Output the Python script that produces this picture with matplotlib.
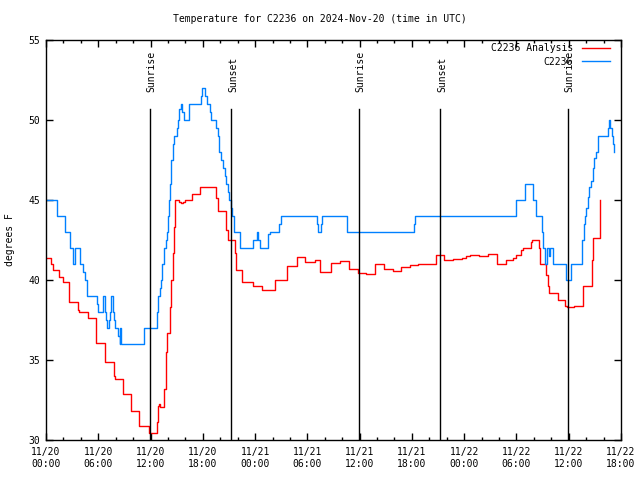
"""
Temperature for station C2236, observations vs analysis, 2024-Nov-20..22 (UTC).
Gnuplot-style stepped lines with sunrise / sunset markers.
"""

import matplotlib
matplotlib.use("Agg")
import matplotlib.pyplot as plt
import matplotlib.transforms as mtransforms
from matplotlib.ticker import MultipleLocator

# hours since 2024-11-20 00:00 UTC
OBS_HOURS = [0.0, 1.3, 2.18, 2.75, 3.13, 3.3, 3.9, 4.3, 4.5, 4.75, 5.85, 5.95,
             6.55, 6.75, 6.9, 7.0, 7.2, 7.35, 7.5, 7.7, 7.85, 7.95, 8.25, 8.45,
             8.55, 8.65, 11.25, 12.7, 12.9, 13.1, 13.2, 13.35, 13.5, 13.6,
             13.75, 13.85, 14.0, 14.1, 14.2, 14.3, 14.4, 14.55, 14.7, 15.0,
             15.15, 15.3, 15.5, 15.65, 15.8, 16.4, 17.8, 17.95, 18.25, 18.45,
             18.8, 18.95, 19.55, 19.7, 19.9, 20.1, 20.3, 20.5, 20.65, 20.85,
             21.05, 21.2, 21.35, 21.6, 22.3, 23.8, 24.2, 24.35, 24.55, 25.5,
             25.7, 26.75, 26.98, 31.1, 31.2, 31.6, 31.7, 34.55, 34.6, 42.2,
             42.3, 54.0, 55.0, 55.9, 56.2, 56.9, 57.0, 57.3, 57.5, 57.75, 57.9,
             58.2, 59.65, 60.3, 61.5, 61.7, 61.86, 62.0, 62.17, 62.36, 62.56,
             62.75, 62.94, 63.13, 63.4, 64.47, 64.6, 64.77, 64.93, 65.05, 65.16]
OBS_TEMPS = [45, 44, 43, 42, 41, 42, 41, 40.5, 40, 39, 38.5, 38,
             39, 38, 37.5, 37, 37.5, 38, 39, 38, 37.5, 37, 36.5, 36,
             37, 36, 37, 38, 39, 39.5, 40, 41, 41.5, 42,
             42.5, 43, 44, 45, 46, 47, 47.5, 48.5, 49, 49.5,
             50, 50.7, 51, 50.5, 50, 51, 51.5, 52, 51.5, 51,
             50.5, 50, 49.5, 49, 48, 47.5, 47, 46.5, 46, 45.5,
             45, 44.5, 44, 43, 42, 42.5, 43, 42.5, 42, 42.9,
             43, 43.5, 44, 43.5, 43, 43.5, 44, 43.5, 43, 43.5,
             44, 45, 46, 45, 44, 43, 42, 41, 42, 41.5, 42,
             41, 40, 41, 42.5, 43.5, 44, 44.5, 45.2, 45.8, 46.2,
             47, 47.6, 48, 49, 49.5, 50, 49.5, 49, 48.5, 48]

ANA_HOURS = [0.0, 0.57, 0.84, 1.53, 1.91, 2.68, 3.71, 3.83, 4.78, 5.74, 6.81,
             7.77, 7.9, 8.8, 9.75, 10.63, 11.78, 12.7, 12.89, 13.0, 13.09,
             13.58, 13.77, 13.85, 14.2, 14.35, 14.54, 14.7, 14.85, 15.3, 15.5,
             15.69, 15.99, 16.76, 17.71, 19.5, 19.7, 20.66, 20.85, 21.73,
             21.81, 22.55, 23.8, 24.83, 26.28, 27.7, 28.77, 29.73, 30.88,
             31.45, 32.71, 33.74, 34.77, 35.85, 36.7, 37.76, 38.83, 39.87,
             40.75, 41.82, 42.74, 44.77, 45.7, 46.68, 47.8, 48.2, 48.67, 49.74,
             50.7, 51.77, 52.8, 53.56, 53.95, 54.5, 54.8, 55.67, 55.8, 56.55,
             56.74, 57.35, 57.6, 57.77, 58.8, 59.57, 59.76, 60.64, 61.68,
             62.67, 62.82, 63.59]
ANA_TEMPS = [41.35, 41.0, 40.6, 40.2, 39.85, 38.6, 38.1, 38.0, 37.6, 36.05, 34.9,
             34.0, 33.8, 32.9, 31.8, 30.9, 30.45, 31.15, 32.1, 32.25, 32.05,
             33.2, 35.5, 36.7, 38.3, 40.0, 41.7, 43.3, 45.0, 44.9, 44.8,
             44.9, 45.0, 45.4, 45.8, 45.1, 44.3, 43.1, 42.5, 41.7,
             40.6, 39.9, 39.6, 39.4, 40.0, 40.9, 41.46, 41.1, 41.25,
             40.5, 41.08, 41.17, 40.7, 40.46, 40.4, 41.0, 40.7, 40.56,
             40.8, 40.95, 41.0, 41.55, 41.25, 41.3, 41.4, 41.5, 41.56, 41.5,
             41.6, 41.0, 41.25, 41.4, 41.56, 41.9, 42.0, 42.4, 42.5, 42.0,
             41.0, 40.3, 39.6, 39.2, 38.75, 38.4, 38.3, 38.4, 39.6,
             41.25, 42.6, 45.0]

SUN_HOURS = [11.88, 21.27, 35.89, 45.27, 59.9]
SUN_LABELS = ["Sunrise", "Sunset", "Sunrise", "Sunset", "Sunrise"]

TICK_HOURS = list(range(0, 67, 6))
TICK_LABELS = ["11/20\n00:00", "11/20\n06:00", "11/20\n12:00", "11/20\n18:00",
               "11/21\n00:00", "11/21\n06:00", "11/21\n12:00", "11/21\n18:00",
               "11/22\n00:00", "11/22\n06:00", "11/22\n12:00", "11/22\n18:00"]

FONT = "DejaVu Sans Mono"
FS = 7


def main():
    plt.rcParams["font.family"] = FONT
    plt.rcParams["font.size"] = FS

    fig = plt.figure(figsize=(6.4, 4.8), dpi=100)
    ax = fig.add_axes([46 / 640, 40 / 480, 575 / 640, 400 / 480])

    ax.plot(ANA_HOURS, ANA_TEMPS, color="#ff0000", lw=1.0,
            drawstyle="steps-post", label="C2236 Analysis")
    ax.plot(OBS_HOURS, OBS_TEMPS, color="#0080ff", lw=1.0,
            drawstyle="steps-post", label="C2236")

    trans = mtransforms.blended_transform_factory(ax.transData, ax.transAxes)
    for h, lab in zip(SUN_HOURS, SUN_LABELS):
        ax.axvline(h, ymin=0, ymax=0.8275, color="black", lw=1.0)
        ax.text(h + 0.2, 0.87, lab, rotation=90, ha="center", va="bottom",
                transform=trans, fontsize=FS)

    ax.set_xlim(0, 66)
    ax.set_ylim(30, 55)
    ax.set_xticks(TICK_HOURS)
    ax.set_xticklabels(TICK_LABELS)
    ax.xaxis.set_minor_locator(MultipleLocator(2))
    ax.set_yticks(range(30, 56, 5))
    ax.tick_params(which="both", direction="in", top=True, right=True,
                   width=1.0, color="black")
    ax.tick_params(which="major", length=5)
    ax.tick_params(which="minor", length=2.5)
    ax.tick_params(axis="x", pad=5)
    ax.tick_params(axis="y", pad=4)
    for sp in ax.spines.values():
        sp.set_linewidth(1.0)

    ax.set_ylabel("degrees F")
    ax.yaxis.set_label_coords(-31 / 575, 0.5)

    fig.text(0.5, 1 - 19 / 480, "Temperature for C2236 on 2024-Nov-20 (time in UTC)",
             ha="center", va="center", fontsize=FS)

    ax.legend(loc="upper right", bbox_to_anchor=(564 / 575, 0.992),
              markerfirst=False, frameon=False, borderaxespad=0, borderpad=0,
              handlelength=2.9, handletextpad=0.9, labelspacing=0.35,
              fontsize=FS)

    fig.savefig("out.png", dpi=100)


if __name__ == "__main__":
    main()
